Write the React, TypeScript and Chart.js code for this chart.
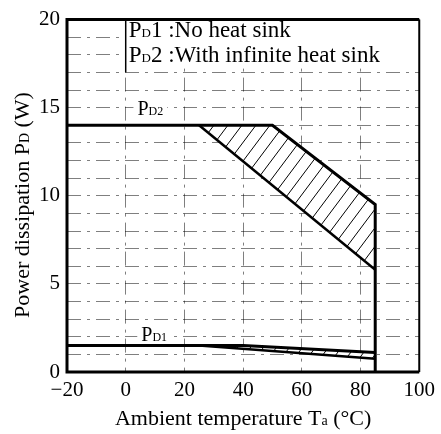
import React, { useEffect, useRef } from 'react';
import { Chart, registerables } from 'chart.js';

Chart.register(...registerables);

// ---- data ----
const xTickValues = [-20, 0, 20, 40, 60, 80, 100];
const yTickLabels = [0, 5, 10, 15, 20];
// PD2: with infinite heat sink (outer and inner boundary of the hatched band)
const pd2Temp = [-20, 50, 85, 85];
const pd2Power = [14, 14, 9.5, 0];
const pd2InnerTemp = [25, 85];
const pd2InnerPower = [14, 5.8];
// PD1: no heat sink
const pd1Temp = [-20, 40, 85];
const pd1Power = [1.5, 1.5, 1.1];
const pd1InnerTemp = [25, 85];
const pd1InnerPower = [1.5, 0.75];

const FONT = '"Liberation Serif", "Times New Roman", serif';

type P = { x: number; y: number };
const toPts = (t: number[], p: number[]): P[] => t.map((v, i) => ({ x: v, y: p[i] }));

function band(oT: number[], oP: number[], iT: number[], iP: number[]): P[] {
  const inner = toPts(iT, iP);
  const outer = toPts(oT, oP).filter((p) => p.x > iT[0] && p.y > iP[iP.length - 1]);
  return inner.concat(outer.reverse());
}
const hatch2 = band(pd2Temp, pd2Power, pd2InnerTemp, pd2InnerPower);
const hatch1 = band(pd1Temp, pd1Power, pd1InnerTemp, pd1InnerPower);

function rich(ctx: CanvasRenderingContext2D, parts: [string, number][], x: number, y: number) {
  let cx = x;
  for (const [t, s] of parts) {
    ctx.font = `${s}px ${FONT}`;
    ctx.fillText(t, cx, y);
    cx += ctx.measureText(t).width;
  }
}
function richWidth(ctx: CanvasRenderingContext2D, parts: [string, number][]) {
  let w = 0;
  for (const [t, s] of parts) {
    ctx.font = `${s}px ${FONT}`;
    w += ctx.measureText(t).width;
  }
  return w;
}

const label2: [string, number][] = [['P', 20], ['D2', 12]];
const label1: [string, number][] = [['P', 20], ['D1', 12]];

const decor = {
  id: 'decor',
  beforeDatasetsDraw(chart: any) {
    const { ctx, scales } = chart;
    const xs = scales.x, ys = scales.y;
    ctx.save();
    ctx.fillStyle = '#fff';
    // white legend area
    const lx = xs.getPixelForValue(0);
    ctx.fillRect(lx, ys.getPixelForValue(20), xs.getPixelForValue(100) - lx, ys.getPixelForValue(17.25) - ys.getPixelForValue(20));
    // white behind curve labels
    const w2 = richWidth(ctx, label2);
    ctx.fillRect(xs.getPixelForValue(4) - 4, ys.getPixelForValue(14.57) - 15, w2 + 8, 19);
    const w1 = richWidth(ctx, label1);
    ctx.fillRect(xs.getPixelForValue(5.3) - 4, ys.getPixelForValue(1.74) - 15, w1 + 8, 19);
    ctx.restore();

    const drawHatch = (poly: P[], spacing: number) => {
      const px = poly.map((p) => ({ x: xs.getPixelForValue(p.x), y: ys.getPixelForValue(p.y) }));
      ctx.save();
      ctx.beginPath();
      px.forEach((p, i) => (i ? ctx.lineTo(p.x, p.y) : ctx.moveTo(p.x, p.y)));
      ctx.closePath();
      ctx.fillStyle = '#fff';
      ctx.fill();
      ctx.clip();
      const minX = Math.min(...px.map((p) => p.x)), maxX = Math.max(...px.map((p) => p.x));
      const minY = Math.min(...px.map((p) => p.y)), maxY = Math.max(...px.map((p) => p.y));
      const h = maxY - minY;
      const k = 0.75;
      ctx.strokeStyle = '#000';
      ctx.lineWidth = 1;
      ctx.beginPath();
      for (let x0 = minX - h * k - spacing; x0 < maxX + spacing; x0 += spacing) {
        ctx.moveTo(x0, maxY + 1);
        ctx.lineTo(x0 + (h + 2) * k, minY - 1);
      }
      ctx.stroke();
      ctx.restore();
    };
    drawHatch(hatch2, 14);
    drawHatch(hatch1, 13);
  },
  afterDraw(chart: any) {
    const { ctx, chartArea: a, scales } = chart;
    const xs = scales.x, ys = scales.y;
    ctx.save();
    ctx.strokeStyle = '#000';
    ctx.fillStyle = '#000';
    // frame
    ctx.lineWidth = 3;
    ctx.beginPath();
    ctx.moveTo(a.right, a.top);
    ctx.lineTo(a.left, a.top);
    ctx.lineTo(a.left, a.bottom);
    ctx.lineTo(a.right, a.bottom);
    ctx.stroke();
    ctx.lineWidth = 2;
    ctx.beginPath();
    ctx.moveTo(a.right, a.top);
    ctx.lineTo(a.right, a.bottom);
    ctx.stroke();
    // legend box left edge
    ctx.lineWidth = 1.5;
    ctx.beginPath();
    ctx.moveTo(xs.getPixelForValue(0), ys.getPixelForValue(20));
    ctx.lineTo(xs.getPixelForValue(0), ys.getPixelForValue(17));
    ctx.stroke();
    // legend text
    ctx.textBaseline = 'alphabetic';
    ctx.textAlign = 'left';
    rich(ctx, [['P', 23], ['D', 13], ['1 :No heat sink', 23]], xs.getPixelForValue(0) + 3, 37);
    rich(ctx, [['P', 23], ['D', 13], ['2 :With infinite heat sink', 23]], xs.getPixelForValue(0) + 3, 62);
    // curve labels
    rich(ctx, label2, xs.getPixelForValue(4), ys.getPixelForValue(14.57));
    rich(ctx, label1, xs.getPixelForValue(5.3), ys.getPixelForValue(1.74));
    // x title
    const xt: [string, number][] = [['Ambient temperature T', 22], ['a', 14], [' (°C)', 22]];
    const xw = richWidth(ctx, xt);
    rich(ctx, xt, (a.left + a.right) / 2 - xw / 2, 425);
    // y title
    const yt: [string, number][] = [['Power dissipation P', 22], ['D', 14], [' (W)', 22]];
    const yw = richWidth(ctx, yt);
    ctx.translate(29, 205);
    ctx.rotate(-Math.PI / 2);
    rich(ctx, yt, -yw / 2, 0);
    ctx.restore();
  },
};

export default function App() {
  const ref = useRef<HTMLCanvasElement>(null);
  useEffect(() => {
    document.body.style.margin = '0';
    const line = (data: P[], w: number) => ({
      data,
      showLine: true,
      borderColor: '#000',
      borderWidth: w,
      pointRadius: 0,
      fill: false,
      tension: 0,
      borderJoinStyle: 'miter' as const,
    });
    const chart = new Chart(ref.current!, {
      type: 'scatter',
      data: {
        datasets: [
          line(toPts(pd2Temp, pd2Power), 3),
          line(toPts(pd2InnerTemp, pd2InnerPower), 2.5),
          line(toPts(pd1Temp, pd1Power), 3),
          line(toPts(pd1InnerTemp, pd1InnerPower), 2.5),
        ],
      },
      options: {
        animation: false,
        responsive: false,
        layout: { padding: { top: 15, right: 19, left: 0, bottom: 0 } },
        plugins: { legend: { display: false }, tooltip: { enabled: false } },
        scales: {
          x: {
            type: 'linear',
            min: -20,
            max: 100,
            afterFit: (s: any) => { s.height = 62; },
            afterBuildTicks: (s: any) => { s.ticks = xTickValues.map((v) => ({ value: v })); },
            grid: { color: 'rgba(0,0,0,0.5)', lineWidth: 1, drawTicks: false },
            border: { display: false, dash: [14, 6, 3, 6] },
            ticks: {
              padding: 6,
              color: '#000',
              font: { family: FONT, size: 21 },
              callback: (v: any) => (v < 0 ? '\u2212' + Math.abs(v) : String(v)),
            },
          },
          y: {
            type: 'linear',
            min: 0,
            max: 20,
            afterFit: (s: any) => { s.width = 67; },
            grid: { color: 'rgba(0,0,0,0.5)', lineWidth: 1, drawTicks: false },
            border: { display: false, dash: [14, 6, 3, 6] },
            ticks: {
              stepSize: 1,
              padding: 7,
              color: '#000',
              autoSkip: false,
              font: { family: FONT, size: 21 },
              callback: (v: any) => (yTickLabels.includes(v) ? String(v) : ''),
            },
          },
        },
      },
      plugins: [decor],
    });
    return () => chart.destroy();
  }, []);
  return (
    <div style={{ position: 'absolute', left: 0, top: 0, width: 441, height: 434, background: '#fff' }}>
      <canvas ref={ref} width={441} height={434} style={{ display: 'block', width: 441, height: 434 }} />
    </div>
  );
}
